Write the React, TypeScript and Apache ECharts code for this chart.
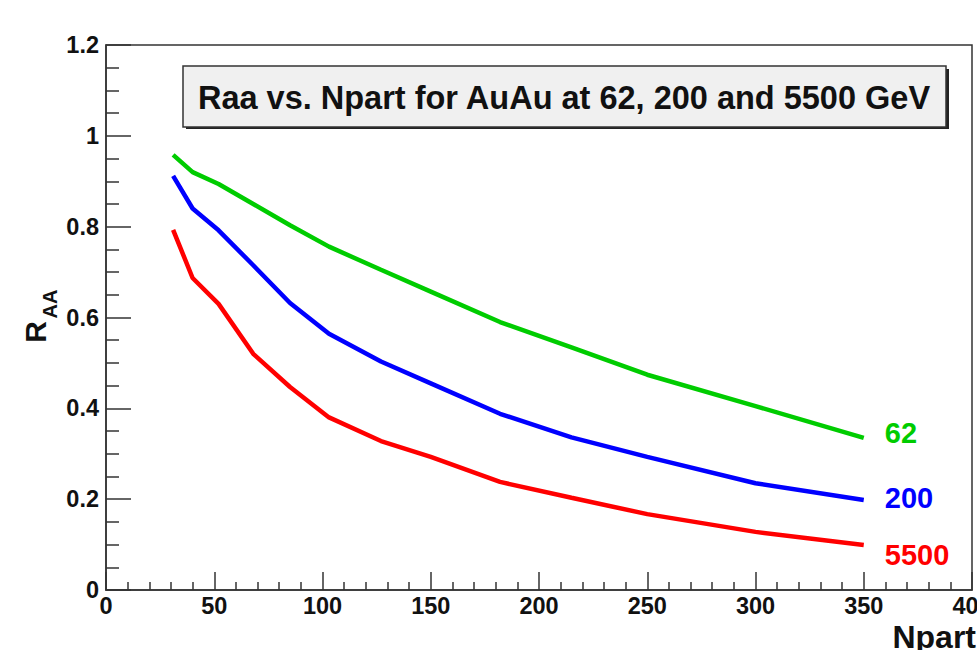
import React, { useEffect, useRef } from 'react';
import * as echarts from 'echarts';

const npart = [31, 40, 52, 68, 85, 103, 127, 150, 182, 215, 250, 300, 350];
const raa62 = [0.958, 0.92, 0.894, 0.85, 0.803, 0.756, 0.705, 0.657, 0.59, 0.534, 0.474, 0.405, 0.335];
const raa200 = [0.912, 0.84, 0.792, 0.715, 0.632, 0.564, 0.503, 0.455, 0.388, 0.336, 0.293, 0.235, 0.198];
const raa5500 = [0.793, 0.687, 0.63, 0.52, 0.447, 0.38, 0.328, 0.293, 0.238, 0.203, 0.167, 0.128, 0.099];
const energies = ['62', '200', '5500'];
const titleText = 'Raa vs. Npart for AuAu at 62, 200 and 5500 GeV';
const xName = 'Npart';

export default function App() {
  const ref = useRef<HTMLDivElement>(null);
  useEffect(() => {
    document.body.style.margin = '0';
    const chart = echarts.init(ref.current!, null, { renderer: 'svg', width: 977, height: 650 });
    const font = "'Liberation Sans', Arial, Helvetica, sans-serif";
    const colors = ['#00cc00', '#0000ff', '#ff0000'];
    const labelDy = [-5, -2, 10];
    const values = [raa62, raa200, raa5500];
    const axisColor = '#333';
    const series = values.map((vals, k) => ({
      type: 'line',
      name: energies[k],
      data: npart.map((x, i) => [x, vals[i]]),
      showSymbol: false,
      symbol: 'none',
      lineStyle: { width: 4.5, color: colors[k] },
      itemStyle: { color: colors[k] },
      endLabel: {
        show: true,
        formatter: energies[k],
        color: colors[k],
        fontSize: 29,
        fontWeight: 'bold',
        fontFamily: font,
        distance: 21,
        offset: [0, labelDy[k]],
      },
    }));
    chart.setOption({
      animation: false,
      backgroundColor: '#fff',
      grid: {
        left: 106,
        right: 5,
        top: 45,
        bottom: 60,
        containLabel: false,
        outerBoundsMode: 'none',
        show: true,
        borderColor: axisColor,
        borderWidth: 1.5,
        backgroundColor: 'transparent',
      },
      xAxis: {
        type: 'value',
        min: 0,
        max: 400,
        interval: 50,
        axisLine: { show: true, lineStyle: { color: axisColor, width: 1.5 } },
        axisTick: { show: true, inside: true, length: 18, lineStyle: { color: axisColor, width: 1.5 } },
        minorTick: { show: true, splitNumber: 5, length: 8, lineStyle: { color: axisColor, width: 1.5 } },
        splitLine: { show: false },
        axisLabel: {
          show: true,
          fontSize: 23.5,
          fontWeight: 'bold',
          fontFamily: font,
          color: '#111',
          margin: 4,
          showMaxLabel: true,
          showMinLabel: true,
        },
      },
      yAxis: {
        type: 'value',
        min: 0,
        max: 1.2,
        interval: 0.2,
        axisLine: { show: true, lineStyle: { color: axisColor, width: 1.5 } },
        axisTick: { show: true, inside: true, length: 25, lineStyle: { color: axisColor, width: 1.5 } },
        minorTick: { show: true, splitNumber: 4, length: 13, lineStyle: { color: axisColor, width: 1.5 } },
        splitLine: { show: false },
        axisLabel: {
          show: true,
          fontSize: 23.5,
          fontWeight: 'bold',
          fontFamily: font,
          color: '#111',
          margin: 7,
          showMaxLabel: true,
          showMinLabel: true,
        },
      },
      series,
      graphic: [
        {
          type: 'rect',
          z: 100,
          shape: { x: 186, y: 69, width: 763, height: 60 },
          style: { fill: '#222' },
        },
        {
          type: 'rect',
          z: 101,
          shape: { x: 183, y: 66, width: 763, height: 61 },
          style: { fill: '#f0f0f0', stroke: '#333', lineWidth: 1.5 },
        },
        {
          type: 'text',
          z: 102,
          x: 564,
          y: 98,
          style: {
            text: titleText,
            fill: '#111',
            font: `bold 32.5px ${font}`,
            align: 'center',
            verticalAlign: 'middle',
            textAlign: 'center',
            textVerticalAlign: 'middle',
          },
        },
        {
          type: 'text',
          z: 102,
          x: 35.5,
          y: 332,
          rotation: Math.PI / 2,
          style: {
            text: 'R',
            fill: '#111',
            font: `bold 30px ${font}`,
            align: 'center',
            verticalAlign: 'middle',
            textAlign: 'center',
            textVerticalAlign: 'middle',
          },
        },
        {
          type: 'text',
          z: 102,
          x: 50,
          y: 304,
          rotation: Math.PI / 2,
          style: {
            text: 'AA',
            fill: '#111',
            font: `bold 20px ${font}`,
            align: 'center',
            verticalAlign: 'middle',
            textAlign: 'center',
            textVerticalAlign: 'middle',
          },
        },
        {
          type: 'text',
          z: 102,
          x: 976,
          y: 637,
          style: {
            text: xName,
            fill: '#111',
            font: `bold 32px ${font}`,
            align: 'right',
            verticalAlign: 'middle',
            textAlign: 'right',
            textVerticalAlign: 'middle',
          },
        },
      ],
    });
    return () => chart.dispose();
  }, []);
  return (
    <div
      ref={ref}
      style={{ position: 'absolute', left: 0, top: 0, width: 977, height: 650, background: '#fff', overflow: 'hidden' }}
    />
  );
}
